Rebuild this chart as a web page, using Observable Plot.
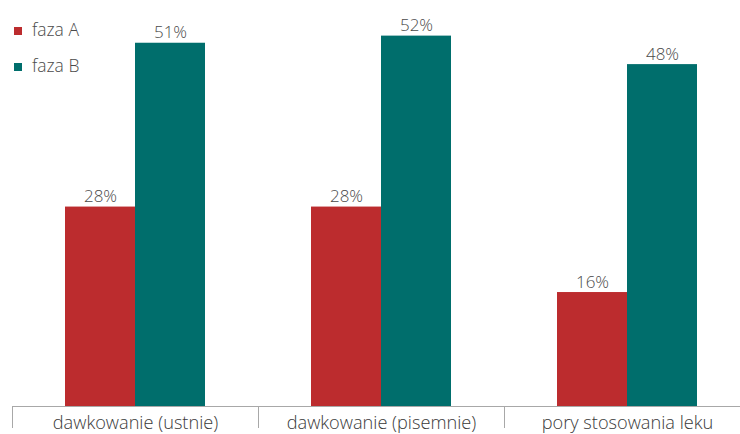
<!DOCTYPE html>
<html>
<head>
<meta charset="utf-8">
<script src="https://cdn.jsdelivr.net/npm/d3@7"></script>
<script src="https://cdn.jsdelivr.net/npm/@observablehq/plot@0.6"></script>
<style>
  html, body { margin: 0; padding: 0; background: #fff; overflow: hidden; }
  #wrap { position: relative; width: 740px; height: 434px; overflow: hidden; }
  #wrap svg { max-width: none !important; display: block; }
  #legend { position: absolute; left: 14px; top: 19px; font-family: "Open Sans", sans-serif; font-weight: 300; font-size: 17.5px; color: #4a4a4a; }
  #legend .item { display: flex; align-items: center; height: 20px; margin-bottom: 16px; }
  #legend .sw { width: 8px; height: 8px; margin-right: 10px; margin-top: 3px; }
</style>
</head>
<body>
<div id="wrap"><div id="legend"></div></div>
<script>
const categories = ["dawkowanie (ustnie)", "dawkowanie (pisemnie)", "pory stosowania leku"];
const phases = ["faza A", "faza B"];
const colors = ["#BC2C2E", "#006E6C"];
const valuesA = [28, 28, 16];
const valuesB = [51, 52, 48];

const data = [];
categories.forEach((c, i) => {
  data.push({category: c, phase: phases[0], value: valuesA[i]});
  data.push({category: c, phase: phases[1], value: valuesB[i]});
});

const font = "'Open Sans', sans-serif";

const chart = Plot.plot({
  width: 750,
  height: 434,
  marginTop: 0,
  marginBottom: 28,
  marginLeft: 12,
  marginRight: 0,
  style: {fontFamily: font, fontSize: "17px", fontWeight: 300, color: "#4a4a4a", background: "transparent", maxWidth: "none"},
  fx: {domain: categories, padding: 0, label: null, axis: null},
  x: {domain: phases, paddingInner: 0, paddingOuter: 0.757, axis: null},
  y: {domain: [0, 57], axis: null},
  color: {domain: phases, range: colors},
  marks: [
    Plot.barY(data, {fx: "category", x: "phase", y: "value", fill: "phase"}),
    Plot.text(data, {fx: "category", x: "phase", y: "value", text: d => d.value + "%", lineAnchor: "bottom", dy: -5, fill: "#4a4a4a", fontSize: 17, fontWeight: 300}),
    Plot.axisFx({anchor: "bottom", tickSize: 0, tickPadding: 9.5, fontSize: 18.2, fontWeight: 300, fill: "#3a3a3a", label: null})
  ]
});

// axis line and category boundary ticks using the plot's own scales
const fx = chart.scale("fx");
const y = chart.scale("y");
const svg = d3.select(chart);
const y0 = y.apply(0);
const left = fx.apply(categories[0]);
const right = fx.apply(categories[categories.length - 1]) + fx.bandwidth;
const g = svg.append("g").attr("stroke", "#a8a8a8").attr("stroke-width", 1);
g.append("line").attr("x1", left).attr("x2", right).attr("y1", y0 + 0.5).attr("y2", y0 + 0.5);
categories.forEach(c => {
  const xb = Math.round(fx.apply(c)) + 0.5;
  g.append("line").attr("x1", xb).attr("x2", xb).attr("y1", y0).attr("y2", y0 + 22);
});
g.append("line").attr("x1", right - 0.5).attr("x2", right - 0.5).attr("y1", y0).attr("y2", y0 + 22);

document.getElementById("wrap").prepend(chart);

const legend = d3.select("#legend");
phases.forEach((p, i) => {
  const it = legend.append("div").attr("class", "item");
  it.append("div").attr("class", "sw").style("background", colors[i]);
  it.append("span").text(p);
});
</script>
</body>
</html>
